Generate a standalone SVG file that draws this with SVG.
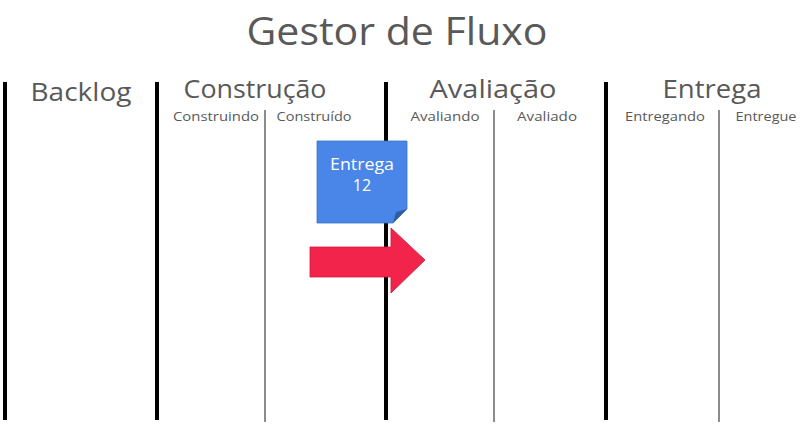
<svg xmlns="http://www.w3.org/2000/svg" width="800" height="424" viewBox="0 0 800 424">
<style>
.title{font-family:"Open Sans","Liberation Sans",sans-serif;font-size:38px;fill:#595959}
.h{font-family:"Open Sans","Liberation Sans",sans-serif;font-size:25px;fill:#595959;text-anchor:middle}
.s{font-family:"Open Sans","Liberation Sans",sans-serif;font-size:13px;fill:#595959;text-anchor:middle}
.thick{stroke:#000;stroke-width:4}
.thin{stroke:#666;stroke-width:1.5}
.nt{font-family:"Open Sans","Liberation Sans",sans-serif;font-size:16px;fill:#fff;text-anchor:middle}
</style>
<rect width="800" height="424" fill="#fff"/>
<text class="title" x="397" y="45" text-anchor="middle" textLength="301" lengthAdjust="spacingAndGlyphs">Gestor de Fluxo</text>
<g id="lanes">
<line class="thick" x1="5" y1="82" x2="5" y2="420"/>
<line class="thick" x1="157" y1="82" x2="157" y2="420"/>
<line class="thick" x1="386" y1="82" x2="386" y2="420"/>
<line class="thick" x1="606" y1="82" x2="606" y2="420"/>
<line class="thin" x1="265" y1="110" x2="265" y2="422"/>
<line class="thin" x1="494" y1="110" x2="494" y2="422"/>
<line class="thin" x1="719" y1="110" x2="719" y2="422"/>
</g>
<g id="headers">
<text class="h" x="81" y="101" textLength="101" lengthAdjust="spacingAndGlyphs">Backlog</text>
<text class="h" x="255" y="98" textLength="143" lengthAdjust="spacingAndGlyphs">Construção</text>
<text class="h" x="493" y="98" textLength="127" lengthAdjust="spacingAndGlyphs">Avaliação</text>
<text class="h" x="712" y="98" textLength="99" lengthAdjust="spacingAndGlyphs">Entrega</text>
<text class="s" x="216" y="121" textLength="86" lengthAdjust="spacingAndGlyphs">Construindo</text>
<text class="s" x="314" y="121" textLength="75" lengthAdjust="spacingAndGlyphs">Construído</text>
<text class="s" x="445" y="121" textLength="69" lengthAdjust="spacingAndGlyphs">Avaliando</text>
<text class="s" x="547" y="121" textLength="60" lengthAdjust="spacingAndGlyphs">Avaliado</text>
<text class="s" x="665" y="121" textLength="80" lengthAdjust="spacingAndGlyphs">Entregando</text>
<text class="s" x="766" y="121" textLength="61" lengthAdjust="spacingAndGlyphs">Entregue</text>
</g>
<g id="note">
<path d="M317 141 H407 V209 L393 223 H317 Z" fill="#4a86e8" stroke="#3b6fc4" stroke-width="0.8"/>
<path d="M407 209 L393 223 L396 212 Z" fill="#2f5fa8"/>
<text class="nt" x="362" y="170" textLength="64" lengthAdjust="spacingAndGlyphs">Entrega</text>
<text class="nt" x="362" y="191">12</text>
</g>
<g id="arrow">
<path d="M310 247 H391 V228 L425 260 L391 293 V277 H310 Z" fill="#f2244b" stroke="#d21a3c" stroke-width="0.8"/>
</g>
</svg>
